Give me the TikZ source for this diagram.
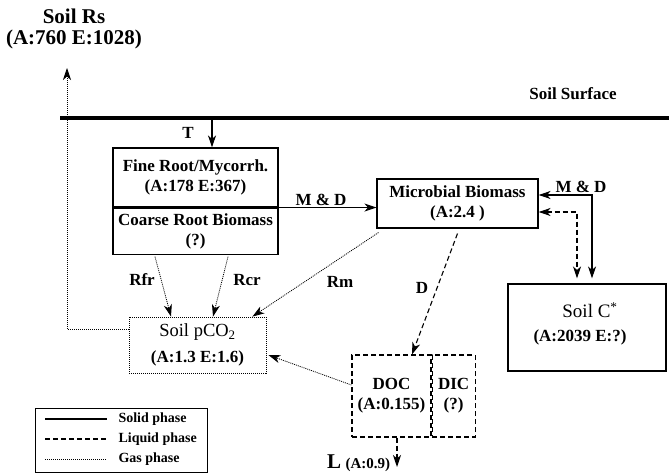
\documentclass[tikz,border=0pt]{standalone}
\usepackage{fontspec}
\setmainfont{Liberation Serif}
\usetikzlibrary{arrows.meta,positioning,calc}

\begin{document}
\begin{tikzpicture}[x=1pt, y=-1pt,
      font=\fontsize{17}{20}\selectfont\bfseries,
      box/.style={draw, line width=1.1pt, align=center, inner sep=0pt},
      liquidbox/.style={box, dash pattern=on 5pt off 3pt},
      gasbox/.style={box, line width=0.8pt, dash pattern=on 1pt off 1pt},
      solidln/.style={line width=1.1pt},
      liquidln/.style={line width=1.1pt, dash pattern=on 5pt off 3pt},
      gasln/.style={line width=0.8pt, dash pattern=on 1pt off 1pt},
      legtext/.style={anchor=west, font=\fontsize{14}{16}\selectfont\bfseries},
      >={Stealth[length=12pt,width=8pt,inset=3.5pt]}]

    \useasboundingbox (0,0) rectangle (669,473);

    % soil surface and total efflux
    \node[align=center, font=\fontsize{21}{21}\selectfont\bfseries] (rs) at (74,29)
      {Soil Rs\\(A:760 E:1028)};
    \node (surf) at (573,94) {Soil Surface};
    \coordinate (s1) at (60,118);
    \coordinate (s2) at (669,118);
    \draw[line width=3.5pt] (s1) -- (s2);
    \coordinate (rsend) at (67,68);
    \coordinate (tstart) at (212,118);

    % pools
    \node[box, minimum width=165, minimum height=59] (fine) at (195.5,177.5)
      {Fine Root/Mycorrh.\\(A:178 E:367)};
    \node[box, minimum width=165, minimum height=46, anchor=north] (coarse) at (fine.south)
      {Coarse Root Biomass\\(?)};
    \node[box, minimum width=161, minimum height=49] (micro) at (457.5,203.5)
      {Microbial Biomass\\(A:2.4 )};
    \node[box, minimum width=158, minimum height=87] (soilc) at (587,327.5) {};
    \node[align=center] (soilctxt) at (580,324)
      {{\mdseries\fontsize{19}{20}\selectfont\hspace*{20pt}Soil C\textsuperscript{*}}\\[4pt](A:2039 E:?)};
    \node[gasbox, minimum width=137, minimum height=56] (pco2) at (197.5,345)
      {{\mdseries\fontsize{18.5}{20}\selectfont Soil pCO\textsubscript{2}}\\[6pt](A:1.3 E:1.6)};
    \node[liquidbox, minimum width=79, minimum height=82] (doc) at (391.5,396)
      {DOC\\(A:0.155)};
    \node[liquidbox, minimum width=43, minimum height=82, anchor=west] (dic) at (doc.east)
      {DIC\\(?)};
    \coordinate (lend) at (397,467);

    % flux labels
    \node (t) at (188,133) {T};
    \node (md1) at (321,200) {M \& D};
    \node (md2) at (581,187) {M \& D};
    \node (rfr) at (142,280) {Rfr};
    \node (rcr) at (247,280) {Rcr};
    \node (rm) at (340,282) {Rm};
    \node (d) at (422,288) {D};
    \node (l) at (334,462) {\fontsize{21}{20}\selectfont L};
    \node[anchor=west] (lval) at (342,465) {\fontsize{15}{14}\selectfont (A:0.9)};

    % fluxes
    \draw[gasln, ->] ([yshift=16pt]pco2.west) -| (rsend);
    \draw[solidln, ->] (tstart) -- (tstart |- fine.north);
    \draw[solidln, ->] (fine.south east) -- (fine.south east -| micro.west);
    \draw[solidln, <->, shorten >=5pt] ([yshift=8.5pt]micro.east) -| ([xshift=5pt]soilc.north);
    \draw[liquidln, <->, shorten >=5pt] ([yshift=-8.5pt]micro.east) -| ([xshift=-10pt]soilc.north);
    \draw[gasln, ->] ([xshift=-40.5pt,yshift=-2pt]coarse.south) -- ([xshift=-26.5pt]pco2.north);
    \draw[gasln, ->] ([xshift=32.5pt,yshift=-2pt]coarse.south) -- ([xshift=15.5pt]pco2.north);
    \draw[gasln, ->] ([xshift=2pt,yshift=-4pt]micro.south west) -- ([xshift=-14pt]pco2.north east);
    \draw[liquidln, ->] ([yshift=-5pt]micro.south) -- ([xshift=20.5pt]doc.north);
    \draw[gasln, ->] ([yshift=11pt]doc.west) -- ([xshift=2pt,yshift=-10pt]pco2.east);
    \draw[liquidln, ->] ([xshift=5.5pt]doc.south) -- (lend);

    % legend
    \node[draw, line width=0.8pt, minimum width=172, minimum height=64, anchor=north west]
      (legend) at (35,408) {};
    \draw[solidln] (45,419) -- (107,419);
    \node[legtext] (legsolid) at (115,419) {Solid phase};
    \draw[liquidln] (45,439) -- (107,439);
    \node[legtext] (legliquid) at (115,439) {Liquid phase};
    \draw[gasln] (45,459) -- (107,459);
    \node[legtext] (leggas) at (115,459) {Gas phase};
  \end{tikzpicture}
\end{document}
